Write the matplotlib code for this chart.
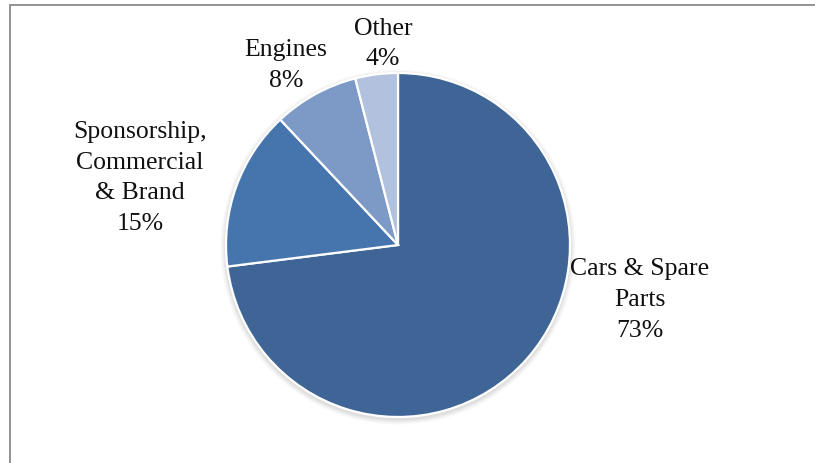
import matplotlib
matplotlib.use("Agg")
import matplotlib.pyplot as plt
from matplotlib.patches import Circle, Rectangle

plt.rcParams['font.family'] = ['Liberation Serif', 'DejaVu Serif']

# revenue split
labels = ["Cars & Spare\nParts", "Sponsorship,\nCommercial\n& Brand", "Engines", "Other"]
shares = [73, 15, 8, 4]
colors = ["#3E6595", "#4675AD", "#7D9AC7", "#B1C1DE"]
# where each label sits, in units of the pie radius
label_pos = [(1.407, -0.314), (-1.50, 0.395), (-0.651, 1.047), (-0.087, 1.174)]

W, H = 815, 464
cx, cy, r = 398, 246, 172

fig = plt.figure(figsize=(W / 100, H / 100), dpi=100)
ax = fig.add_axes([0, 0, 1, 1])

# soft drop shadow under the pie
for i, a in enumerate([0.025, 0.03, 0.035, 0.04]):
    ax.add_patch(Circle((0, -0.012), 1.0 + 0.008 * (4 - i), color='black', alpha=a, lw=0, zorder=0))

ax.pie(shares, colors=colors, startangle=90, counterclock=False, radius=1.0,
       wedgeprops=dict(edgecolor='white', linewidth=1.6))

ax.set_xlim(-cx / r, (W - cx) / r)
ax.set_ylim(-(H - cy) / r, cy / r)
ax.set_aspect('equal')
ax.axis('off')

for lab, val, (x, y) in zip(labels, shares, label_pos):
    ax.text(x, y, f"{lab}\n{val}%", ha='center', va='center', fontsize=18.5,
            color='#111111', linespacing=1.52)

# chart frame (cut off at the right and bottom)
fig.patches.append(Rectangle((9.5 / W, -0.1), 1.2, 1.1 - 5.5 / H, transform=fig.transFigure,
                             fill=False, edgecolor='#8a8a8a', lw=1.3))

fig.savefig("out.png", dpi=100)
